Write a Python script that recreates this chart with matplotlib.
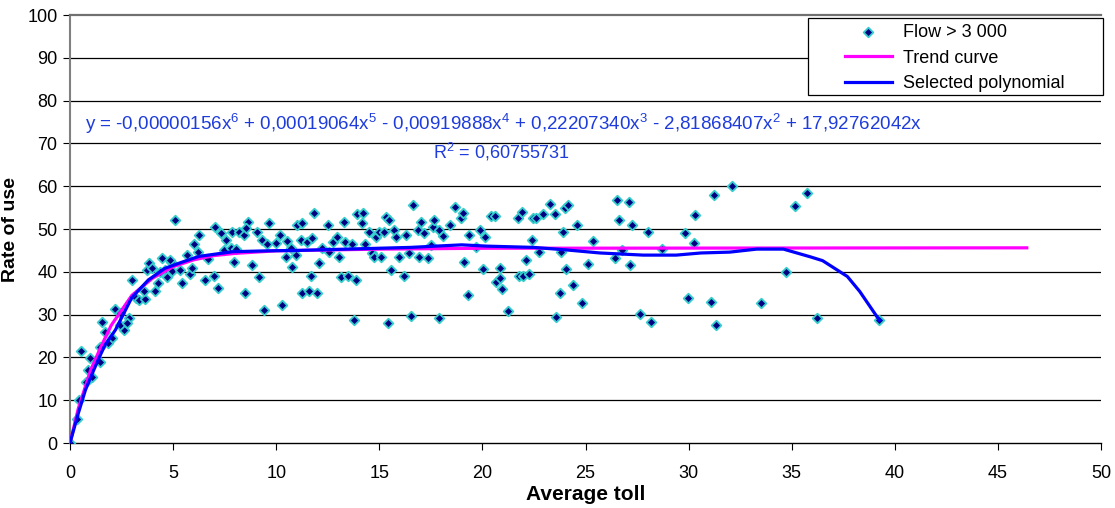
import numpy as np
import matplotlib
matplotlib.use("Agg")
import matplotlib.pyplot as plt
from matplotlib.patches import Rectangle


#### data #############################################
flow_x = [0, 0.33, 0.43, 0.54, 0.77, 0.87, 0.98, 1.06, 1.45, 1.55, 1.71, 1.45, 2.03, 1.84,
          2.2, 2.44, 2.6, 2.44, 2.84, 2.76, 3.0, 3.2, 3.35, 3.66, 3.57, 4.1, 4.28, 3.73,
          3.82, 3.98, 4.46, 4.63, 4.71, 4.95, 4.92, 5.11, 4.38, 4.87, 5.43, 5.33, 5.68,
          5.84, 5.94, 6.0, 6.25, 6.21, 6.54, 6.7, 6.98, 7.2, 7.02, 7.3, 7.55, 7.46, 7.87,
          7.79, 8.03, 7.95, 8.19, 8.43, 8.64, 8.52, 9.08, 8.84, 9.16, 9.33, 9.65, 9.41,
          8.48, 9.57, 10.17, 10.0, 10.27, 10.54, 10.7, 10.49, 10.75, 11.03, 11.27, 10.98,
          11.19, 11.51, 11.76, 11.84, 11.68, 11.27, 11.6, 12.0, 12.08, 12.21, 12.53, 12.57,
          12.76, 12.97, 13.05, 13.3, 13.34, 13.7, 13.14, 13.46, 13.87, 13.78, 13.94, 14.22,
          14.16, 14.32, 14.48, 14.67, 14.75, 14.84, 15.0, 15.24, 15.08, 15.32, 15.48, 15.57,
          15.4, 15.73, 15.81, 15.97, 16.21, 16.3, 16.46, 16.54, 16.65, 16.86, 16.94, 17.02,
          17.19, 17.35, 17.59, 17.67, 17.91, 17.51, 17.91, 18.07, 18.44, 18.69, 18.97,
          19.05, 19.29, 19.13, 19.37, 19.7, 19.86, 20.15, 20.02, 20.43, 20.59, 20.87,
          20.67, 20.83, 20.96, 21.24, 21.72, 21.93, 22.13, 21.77, 21.96, 22.26, 22.42,
          22.45, 22.61, 22.74, 22.94, 23.26, 23.5, 23.99, 24.15, 23.83, 23.91, 23.75,
          23.59, 24.07, 24.37, 24.59, 24.85, 25.12, 25.34, 26.53, 27.12, 26.63, 27.27,
          26.42, 26.78, 27.18, 28.04, 28.73, 27.64, 28.2, 29.82, 30.26, 30.33, 29.99,
          31.09, 31.33, 31.25, 32.09, 34.72, 33.52, 35.14, 35.74, 36.23, 39.25]
flow_y = [0, 5.5, 10.0, 21.6, 14.2, 17.1, 19.8, 15.5, 19.0, 28.3, 26.0, 22.5, 24.5, 23.3,
          31.3, 30.3, 26.4, 27.6, 29.1, 28.0, 38.2, 33.8, 33.4, 33.7, 35.4, 35.6, 37.3, 40.4,
          42.0, 40.8, 43.2, 40.4, 38.7, 40.3, 42.4, 52.1, 40.0, 42.8, 37.3, 40.4, 44.0,
          39.5, 40.8, 46.5, 48.6, 44.7, 38.2, 42.9, 39.0, 36.1, 50.4, 49.1, 47.4, 45.1, 49.4,
          45.5, 45.3, 42.4, 49.4, 48.6, 51.7, 50.2, 49.4, 41.6, 38.7, 47.4, 51.4, 31.0,
          35.0, 46.5, 48.6, 46.8, 32.2, 47.3, 45.5, 43.5, 41.2, 50.9, 51.3, 43.9,
          47.4, 47.0, 47.8, 53.8, 39.0, 35.0, 35.4, 35.0, 42.0, 45.5, 50.9, 44.7,
          47.0, 48.2, 43.4, 51.7, 47.0, 46.5, 38.7, 39.0, 38.2, 28.7, 53.4, 53.8,
          51.3, 46.5, 49.4, 44.3, 43.4, 48.2, 49.4, 49.4, 43.5, 52.9, 52.1, 40.4,
          28.0, 49.8, 48.2, 43.5, 39.0, 48.6, 44.3, 29.7, 55.6, 49.8, 43.4, 51.7,
          49.0, 43.2, 50.5, 52.1, 29.1, 46.3, 49.8, 48.4, 50.9, 55.2, 52.5,
          53.8, 34.6, 42.4, 48.6, 45.9, 49.8, 48.1, 40.6, 53.0, 53.0, 41.0,
          37.7, 38.5, 35.9, 30.9, 52.5, 54.0, 42.8, 39.0, 39.0, 39.6, 47.4,
          52.5, 52.5, 44.7, 53.5, 55.8, 53.5, 54.8, 55.6, 44.7, 49.4, 35.0,
          29.5, 40.6, 36.9, 50.9, 32.8, 41.8, 47.3, 56.7, 56.3, 52.2, 50.9,
          43.2, 45.0, 41.6, 49.4, 45.3, 30.1, 28.3, 49.0, 46.8, 53.3, 33.8,
          32.9, 27.6, 57.9, 60.0, 39.9, 32.6, 55.4, 58.3, 29.1, 28.7]

trend_x = [0, 0.4, 1.0, 1.5, 2.0, 3.0, 4.0, 5.0, 6.0, 7.0, 8.0, 10.0, 15.0, 20.0, 46.4]
trend_y = [0, 8.0, 17.0, 22.5, 27.5, 34.5, 38.5, 41.2, 42.8, 43.8, 44.3, 44.9, 45.3, 45.5, 45.6]

poly_x = [0, 0.4, 0.75, 1.05, 1.4, 1.7, 2.2, 3.0, 3.8, 4.6, 5.4, 6.25, 7.9, 9.6, 11.1,
          16.5, 19.0, 20.2, 22.5, 24.1, 25.7, 27.8, 29.4, 30.6, 32.0, 33.3, 34.6, 35.9,
          36.5, 37.7, 38.3, 39.25]
poly_y = [0, 6.9, 12.4, 15.9, 19.8, 22.9, 26.4, 34.0, 38.1, 40.8, 42.2, 43.6, 44.7, 44.9,
          45.0, 45.7, 46.3, 46.0, 45.7, 45.1, 44.4, 43.9, 43.9, 44.4, 44.6, 45.3, 45.3,
          43.5, 42.6, 38.9, 35.4, 28.7]

x_ticks = [0, 5, 10, 15, 20, 25, 30, 35, 40, 45, 50]
y_ticks = [0, 10, 20, 30, 40, 50, 60, 70, 80, 90, 100]

equation = ("y = -0,00000156x$^{6}$ + 0,00019064x$^{5}$ - 0,00919888x$^{4}$ + "
            "0,22207340x$^{3}$ - 2,81868407x$^{2}$ + 17,92762042x")
r_squared = "R$^{2}$ = 0,60755731"


plt.rcParams['font.family'] = ['Liberation Sans', 'DejaVu Sans']
plt.rcParams['mathtext.fontset'] = 'custom'
plt.rcParams['mathtext.rm'] = 'Liberation Sans'
plt.rcParams['mathtext.it'] = 'Liberation Sans'
plt.rcParams['mathtext.default'] = 'regular'

W, H = 1115, 508
fig = plt.figure(figsize=(W / 100, H / 100), dpi=100)
ax = fig.add_axes([70 / W, 1 - 443 / H, (1101 - 70) / W, (443 - 15) / H])

ax.scatter(flow_x, flow_y, marker='D', s=24, facecolor='#000080', edgecolor='#33CCCC',
           linewidth=1.3, zorder=3, label='Flow > 3 000')
ax.plot(trend_x, trend_y, color='#FF00FF', lw=2.3, zorder=4, label='Trend curve')
ax.plot(poly_x, poly_y, color='#0000FF', lw=2.3, zorder=5, label='Selected polynomial')

ax.set_xlim(0, 50)
ax.set_ylim(0, 100)
ax.set_xticks(x_ticks)
ax.set_yticks(y_ticks)
ax.tick_params(axis='both', labelsize=13, direction='out', length=5, color='black')
ax.tick_params(axis='x', pad=11)
ax.tick_params(axis='y', pad=4)
for y in y_ticks[1:-1]:
    ax.axhline(y, color='black', lw=0.9, zorder=1)

ax.spines['right'].set_visible(False)
ax.spines['top'].set_color('#707070')
ax.spines['top'].set_linewidth(1.6)
ax.spines['left'].set_color('#808080')
ax.spines['left'].set_linewidth(1.5)
ax.spines['bottom'].set_color('black')
ax.spines['bottom'].set_linewidth(1.0)

ax.set_xlabel('Average toll', fontsize=15, fontweight='bold', labelpad=2)
ax.set_ylabel('Rate of use', fontsize=14, fontweight='bold')
ax.yaxis.set_label_coords((19 - 70) / (1101 - 70), 0.5)

fig.text(85 / W, 1 - 124 / H, equation, color='#1E3CDC', fontsize=13.5, va='center', ha='left')
fig.text(433 / W, 1 - 152 / H, r_squared, color='#1E3CDC', fontsize=13, va='center', ha='left')

# legend frame drawn by hand so the padding matches
fig.patches.append(Rectangle((808 / W, 1 - 95 / H), (1103 - 808) / W, (95 - 18) / H,
                             transform=fig.transFigure, facecolor='white',
                             edgecolor='black', lw=0.9, zorder=10))
leg = fig.legend(loc='upper left', bbox_to_anchor=(845 / W, 1 - 24 / H), frameon=False,
                 fontsize=13, handlelength=2.6, handletextpad=0.6, labelspacing=0.48,
                 borderpad=0, borderaxespad=0, scatterpoints=1, markerscale=1.0)
leg.set_zorder(11)

fig.savefig('out.png', dpi=100)
